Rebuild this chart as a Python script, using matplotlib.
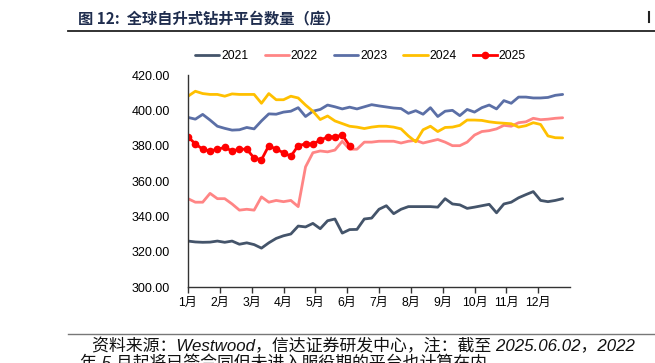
import numpy as np
import matplotlib
matplotlib.use("Agg")
import matplotlib.pyplot as plt

plt.rcParams['font.family'] = ['Liberation Sans', 'Noto Sans CJK SC', 'DejaVu Sans']

# weekly counts
y2021 = [326, 325.5, 325.3, 325.4, 326, 325.3, 326, 324.2, 325, 324,
         322, 325, 327.5, 329, 330, 334.5, 334, 336, 333, 337.5,
         338.5, 330.5, 332.5, 332.6, 338.5, 339, 344, 346, 341.5, 344,
         345.5, 345.5, 345.5, 345.5, 345.2, 350, 347, 346.5, 344.5, 345.2,
         346, 346.8, 342, 347, 348, 350.5, 352.3, 354, 349, 348.3,
         349, 350]
y2022 = [350, 348, 348, 353, 350, 350, 347, 343.5, 344, 343.5,
         351, 348, 349, 348.3, 349, 345.5, 368, 376, 377, 376.5,
         377.5, 382.5, 378, 378, 382, 382, 382.5, 382.5, 382.5, 381.5,
         382.5, 383, 381.5, 382.5, 383.5, 382, 380, 380, 382, 386,
         388, 388.5, 389.5, 391.5, 391, 393, 393.5, 395.5, 394.7, 395,
         395.5, 395.8]
y2023 = [396, 395, 397.7, 394.5, 391, 389.8, 388.8, 389, 390.3, 389.5,
         394, 398, 397.8, 399, 399.5, 401.5, 396.5, 399.5, 400.5, 403,
         402, 400.8, 401.8, 400.8, 402, 403.2, 402.5, 401.9, 401.3, 401,
         398.3, 399.8, 397.8, 401.5, 396.5, 399.5, 400, 397, 400.5, 399,
         401.5, 403, 400.8, 405.5, 404, 407.5, 407.5, 407, 407, 407.3,
         408.5, 409]
y2024 = [408, 410.8, 409.5, 409, 409, 408, 409.3, 409, 409, 409,
         404, 409.5, 406, 406, 408, 407, 403, 399.5, 394.8, 396.8,
         394, 392.5, 391, 390.5, 389.7, 390.5, 391, 391, 390.5, 389.5,
         385.5, 382.2, 389, 391, 388, 390.3, 390.5, 391.5, 394.5, 394.5,
         394.3, 393.5, 393, 392.7, 392.4, 390.5, 391.3, 393, 392, 385.5,
         384.5, 384.4]
y2025 = [385, 381, 378, 377, 378, 379, 377, 378, 378, 373,
         372, 380, 378, 376, 374, 380, 381, 381, 383, 385,
         385, 386, 380]

months = ['1月', '2月', '3月', '4月', '5月', '6月', '7月', '8月', '9月', '10月', '11月', '12月']
years = ['2021', '2022', '2023', '2024', '2025']
colors = ['#44546A', '#FF8585', '#5B6FA6', '#FFC000', '#FF0000']

fig = plt.figure(figsize=(6.55, 3.63), dpi=100)
ax = fig.add_axes([188/655, 1 - 287/363, 382/655, 212/363])

series = [y2021, y2022, y2023, y2024]
for vals, lab, c in zip(series, years[:4], colors[:4]):
    ax.plot(np.arange(len(vals)), vals, color=c, lw=2.0, label=lab,
            solid_joinstyle='round', solid_capstyle='round')
ax.plot(np.arange(len(y2025)), y2025, color=colors[4], lw=2.0, marker='o',
        markersize=4.5, label=years[4], solid_joinstyle='round')

ax.set_xlim(0, 52)
ax.set_ylim(300, 420)
ax.set_yticks(np.arange(300, 421, 20))
ax.set_yticklabels(['%.2f' % v for v in np.arange(300, 421, 20)])
ax.set_xticks([m * 52 / 12 for m in range(12)])
ax.set_xticklabels(months)
for s in ['top', 'right']:
    ax.spines[s].set_visible(False)
for s in ['left', 'bottom']:
    ax.spines[s].set_color('#333333')
    ax.spines[s].set_linewidth(1.0)
ax.tick_params(axis='x', length=4, width=1, color='#333333', labelsize=8.7, pad=3)
ax.tick_params(axis='y', length=0, labelsize=9, pad=13)

ax.legend(loc='center left', bbox_to_anchor=(0.006, 1.0896), ncol=5, frameon=False,
          fontsize=8.7, handlelength=2.0, handletextpad=0.15, columnspacing=1.35,
          borderaxespad=0)

# title and frame lines
fig.text(78/655, 1 - 18/363, '图 12:  全球自升式钻井平台数量（座）', fontsize=11,
         fontweight='bold', color='#1F2D4E', va='center', ha='left',
         family=['Noto Sans CJK SC', 'DejaVu Sans'])
fig.add_artist(plt.Line2D([68/655, 1], [1 - 31/363] * 2, color='#222222', lw=1.3))
fig.add_artist(plt.Line2D([68/655, 1], [1 - 334/363] * 2, color='#777777', lw=1.0))
fig.add_artist(plt.Line2D([649/655, 649/655], [1 - 12/363, 1 - 22/363], color='#222222', lw=1.5))

fig.text(92/655, 1 - 346/363,
         '资料来源：Westwood，信达证券研发中心，注：截至 2025.06.02，2022',
         fontsize=12.2, style='italic', va='center', ha='left', color='#111111')
fig.text(80/655, 1 - 363/363,
         '年 5 月起将已签合同但未进入服役期的平台也计算在内',
         fontsize=12.2, style='italic', va='center', ha='left', color='#111111')

fig.savefig('out.png', dpi=100)
